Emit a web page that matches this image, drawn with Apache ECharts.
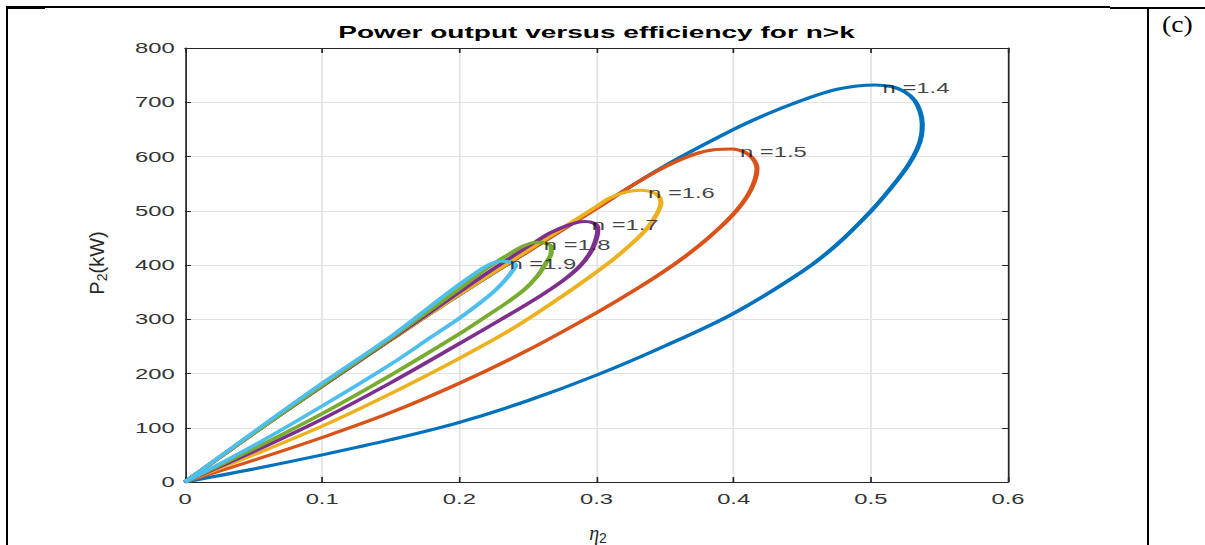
<!DOCTYPE html>
<html>
<head>
<meta charset="utf-8">
<title>Power output versus efficiency</title>
<script src="https://cdn.jsdelivr.net/npm/echarts@6/dist/echarts.min.js"></script>
<style>
  html, body { margin: 0; padding: 0; background: #fff; width: 1205px; height: 545px; overflow: hidden; position: relative; }
  /* the plot is drawn on a narrower canvas and stretched sideways */
  #chart { position: absolute; left: 0; top: 0; width: 709px; height: 545px; transform: scaleX(1.699577); transform-origin: 0 0; }
  .rule { position: absolute; background: #000; }
  #tag { position: absolute; left: 1162px; top: 11px; font: 24px "Liberation Serif", serif; color: #000; transform: scaleX(1.15); transform-origin: 0 0; }
</style>
</head>
<body>
<div id="chart"></div>
<div class="rule" style="left:6px;top:6px;width:39px;height:3px"></div>
<div class="rule" style="left:6px;top:6px;width:1104px;height:2px"></div>
<div class="rule" style="left:1110px;top:7px;width:95px;height:2px"></div>
<div class="rule" style="left:6px;top:6px;width:2px;height:539px"></div>
<div class="rule" style="left:1147px;top:7px;width:2px;height:538px"></div>
<div id="tag">(c)</div>
<script>
// horizontal stretch of the chart canvas (CSS scaleX above)
const S = 1205 / 709;
const sx = v => v / S;

const curveNames = ['n =1.4', 'n =1.5', 'n =1.6', 'n =1.7', 'n =1.8', 'n =1.9'];
const curveColors = ['#0072BD', '#D95319', '#EDB120', '#7E2F8E', '#77AC30', '#4DBEEE'];

// each loop: [efficiency eta2, power P2 (kW)], lower branch out to the tip, upper branch back to the origin
const loopN14 = [
  [0, 0], [0.05, 24], [0.1, 50], [0.15, 78], [0.2, 110], [0.25, 150], [0.3, 197], [0.35, 251],
  [0.4, 311], [0.45, 388], [0.475, 437], [0.5, 499], [0.515, 543], [0.527, 583], [0.534, 615],
  [0.537, 640], [0.5375, 660], [0.536, 682], [0.532, 703], [0.525, 719], [0.515, 729], [0.503, 732],
  [0.49, 730], [0.472, 722], [0.448, 702], [0.425, 679], [0.4, 650], [0.35, 583], [0.3, 505],
  [0.25, 425], [0.2, 345], [0.15, 262], [0.1, 177], [0.05, 90], [0, 0]
];
const loopN15 = [
  [0, 0], [0.05, 40], [0.1, 82], [0.15, 128], [0.2, 182], [0.25, 243], [0.3, 312], [0.33, 357],
  [0.356, 400], [0.375, 436], [0.39, 469], [0.402, 500], [0.41, 527], [0.415, 553], [0.417, 578],
  [0.414, 596], [0.408, 608], [0.399, 614], [0.387, 613], [0.37, 603], [0.346, 576], [0.322, 540],
  [0.3, 504], [0.25, 425], [0.2, 346], [0.15, 262], [0.1, 177], [0.05, 90], [0, 0]
];
const loopN16 = [
  [0, 0], [0.05, 50], [0.1, 103], [0.15, 163], [0.2, 228], [0.237, 280], [0.27, 334], [0.295, 378],
  [0.312, 410], [0.326, 440], [0.337, 468], [0.344, 494], [0.347, 515], [0.345, 528], [0.34, 535],
  [0.332, 538], [0.322, 535], [0.31, 524], [0.3, 508], [0.25, 427], [0.2, 346], [0.15, 262],
  [0.1, 177], [0.05, 90], [0, 0]
];
const loopN17 = [
  [0, 0], [0.05, 56], [0.1, 116], [0.15, 183], [0.2, 255], [0.23, 299], [0.259, 343], [0.276, 372],
  [0.288, 398], [0.296, 425], [0.3, 450], [0.301, 467], [0.298, 477], [0.291, 480], [0.28, 474],
  [0.267, 460], [0.255, 442], [0.24, 418], [0.22, 385], [0.2, 350], [0.15, 263], [0.1, 177],
  [0.05, 90], [0, 0]
];
const loopN18 = [
  [0, 0], [0.05, 61], [0.1, 126], [0.15, 197], [0.2, 273], [0.22, 306], [0.236, 333], [0.248, 356],
  [0.257, 380], [0.263, 403], [0.267, 423], [0.267, 434], [0.263, 440], [0.256, 442], [0.246, 434],
  [0.235, 418], [0.22, 394], [0.2, 356], [0.15, 265], [0.1, 178], [0.05, 90], [0, 0]
];
const loopN19 = [
  [0, 0], [0.05, 67], [0.1, 140], [0.15, 217], [0.18, 268], [0.2, 302], [0.215, 330], [0.226, 353],
  [0.234, 374], [0.239, 390], [0.241, 399], [0.238, 405], [0.231, 407], [0.222, 401], [0.21, 382],
  [0.195, 355], [0.18, 326], [0.15, 268], [0.1, 182], [0.05, 92], [0, 0]
];
const loops = [loopN14, loopN15, loopN16, loopN17, loopN18, loopN19];

const titleText = 'Power output versus efficiency for n>k';
const xMin = 0, xMax = 0.6, xStep = 0.1;
const yMin = 0, yMax = 800, yStep = 100;

const FONT = '"Liberation Sans", Arial, Helvetica, sans-serif';
const AXIS = '#262626';

// the tip of every loop carries its label
const tips = loops.map(d => d.reduce((a, b) => (b[1] > a[1] ? b : a)));

const lineSeries = loops.map((d, i) => ({
  type: 'line',
  name: curveNames[i],
  data: d,
  showSymbol: false,
  smooth: 0.35,
  z: 3 + i,
  silent: true,
  lineStyle: { width: 3, color: curveColors[i] },
  itemStyle: { color: curveColors[i] }
}));

const labelSeries = {
  type: 'scatter',
  data: tips.map((p, i) => ({ value: p, name: curveNames[i] })),
  symbolSize: 1,
  itemStyle: { color: 'rgba(0,0,0,0)' },
  z: 20,
  silent: true,
  label: {
    show: true,
    formatter: p => p.name,
    position: 'right',
    distance: 4,
    offset: [0, 3],
    fontSize: 14,
    fontFamily: FONT,
    color: '#111'
  }
};

function valueAxis(pos, min, max, step, withLabels, tickLen) {
  return {
    type: 'value',
    position: pos,
    min: min, max: max, interval: step,
    axisLine: { show: true, onZero: false, lineStyle: { color: AXIS, width: 1 } },
    axisTick: { show: true, inside: true, length: tickLen, lineStyle: { color: AXIS, width: 1 } },
    axisLabel: withLabels ? {
      show: true, fontSize: 14, fontFamily: FONT, color: '#333',
      margin: pos === 'left' ? 6 : 10, showMinLabel: true, showMaxLabel: true
    } : { show: false },
    splitLine: withLabels ? { show: true, lineStyle: { color: '#e2e2e2', width: 1 } } : { show: false }
  };
}

const chart = echarts.init(document.getElementById('chart'), null, { renderer: 'svg', width: 709, height: 545 });
chart.setOption({
  animation: false,
  backgroundColor: 'transparent',
  grid: { left: sx(185), right: sx(1205 - 1008), top: 48, bottom: 545 - 482, containLabel: false, outerBoundsMode: 'none' },
  xAxis: [
    valueAxis('bottom', xMin, xMax, xStep, true, 5),
    valueAxis('top', xMin, xMax, xStep, false, 5)
  ],
  yAxis: [
    valueAxis('left', yMin, yMax, yStep, true, 3.5),
    valueAxis('right', yMin, yMax, yStep, false, 3.5)
  ],
  series: lineSeries.concat([labelSeries]),
  graphic: [
    {
      type: 'text', x: sx(596.5), y: 32, silent: true,
      style: {
        text: titleText, font: 'bold 16.5px ' + FONT, fill: '#000',
        align: 'center', verticalAlign: 'middle', textAlign: 'center', textVerticalAlign: 'middle'
      }
    },
    {
      type: 'text', x: sx(598), y: 533, scaleX: 1 / S, silent: true,
      style: {
        text: '{e|η}{s|2}',
        align: 'center', verticalAlign: 'middle', textAlign: 'center', textVerticalAlign: 'middle',
        rich: {
          e: { fontSize: 20, fontStyle: 'italic', fontFamily: '"Liberation Serif", serif', fill: AXIS, lineHeight: 24, verticalAlign: 'middle' },
          s: { fontSize: 14, fontFamily: FONT, fill: AXIS, lineHeight: 14, verticalAlign: 'bottom' }
        }
      }
    },
    {
      type: 'text', x: sx(97), y: 263, rotation: Math.PI / 2, scaleY: 1 / S, silent: true,
      style: {
        text: '{a|P}{s|2}{a|(kW)}',
        align: 'center', verticalAlign: 'middle', textAlign: 'center', textVerticalAlign: 'middle',
        rich: {
          a: { fontSize: 20, fontFamily: FONT, fill: AXIS, lineHeight: 24, verticalAlign: 'middle' },
          s: { fontSize: 14, fontFamily: FONT, fill: AXIS, lineHeight: 14, verticalAlign: 'bottom' }
        }
      }
    }
  ]
});
</script>
</body>
</html>
